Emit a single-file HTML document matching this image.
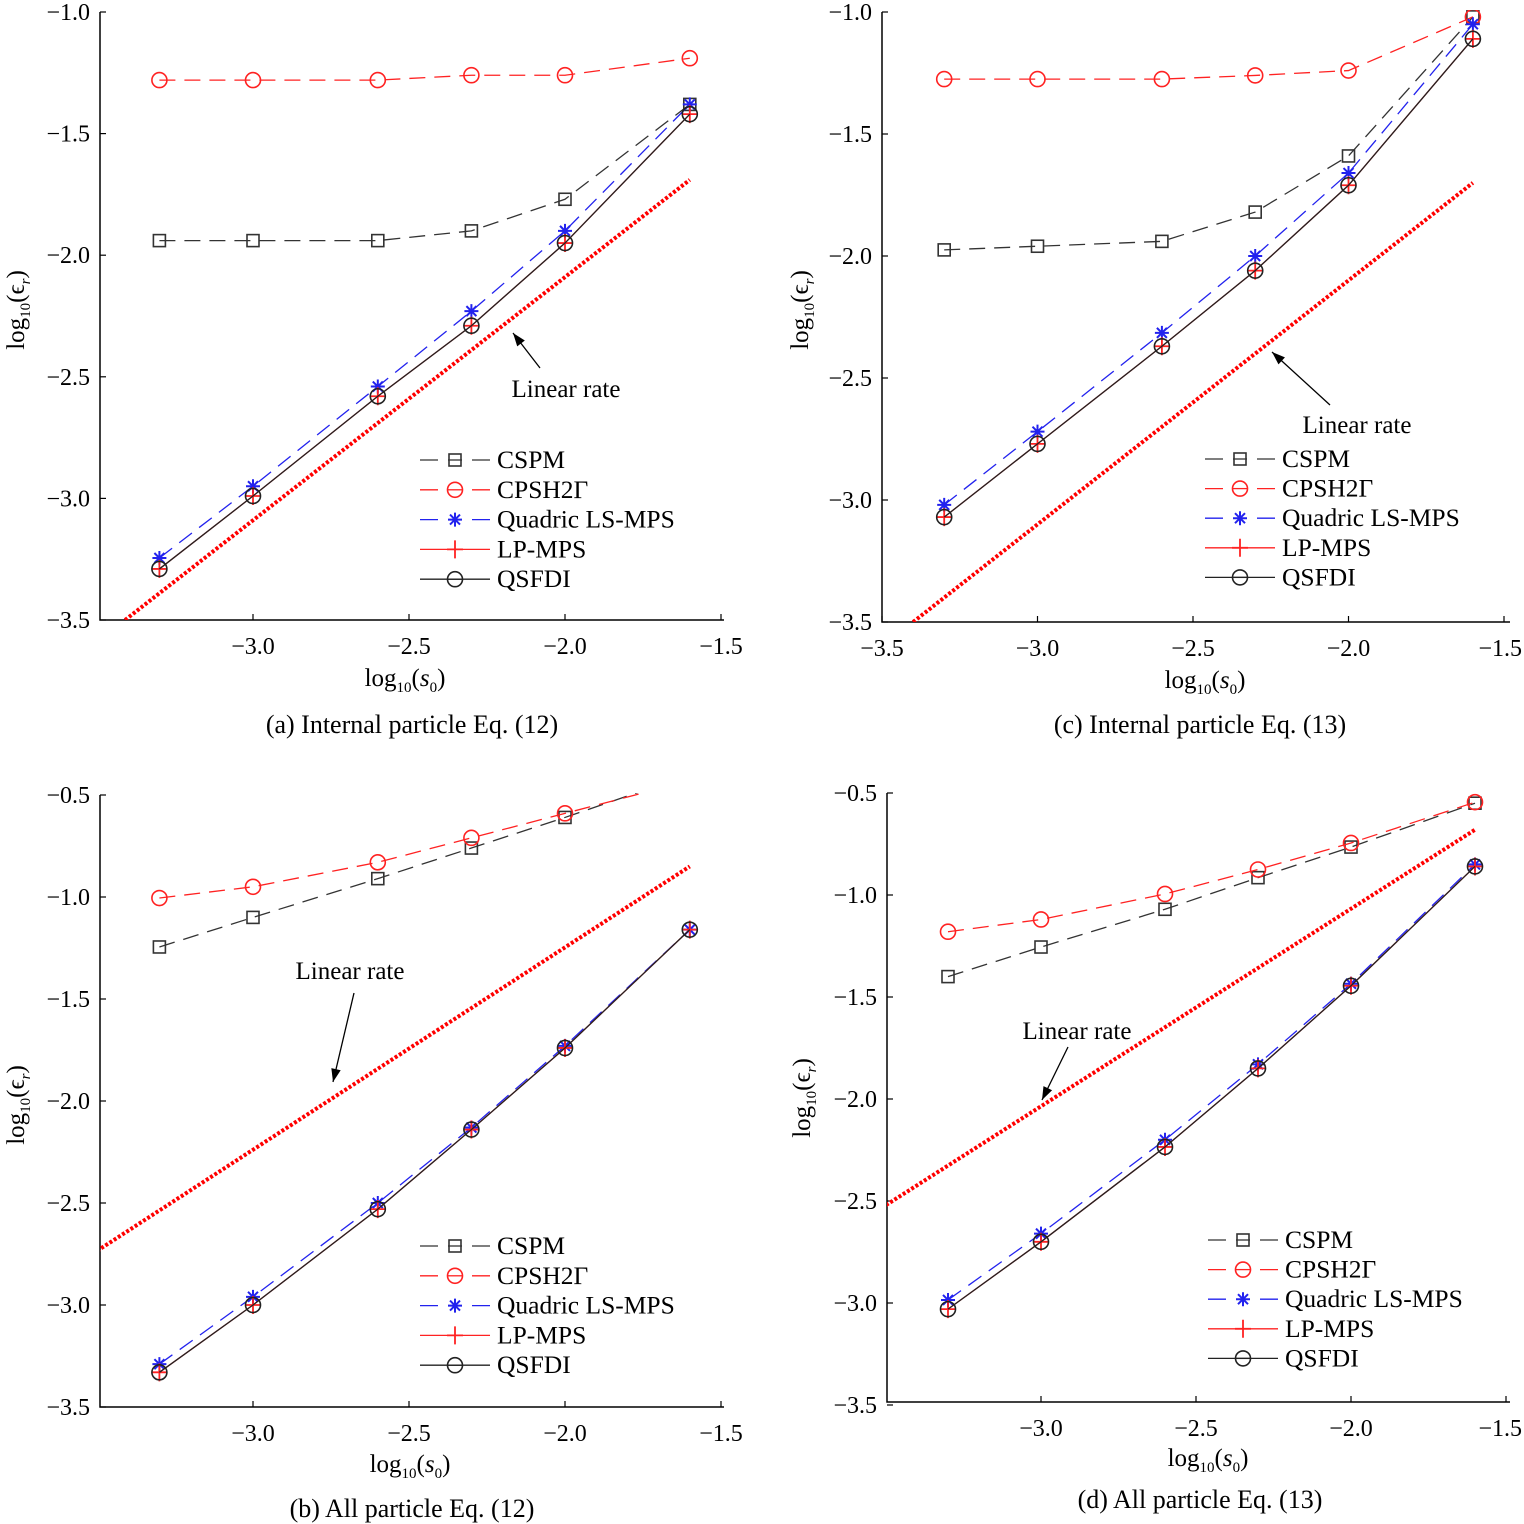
<!DOCTYPE html>
<html><head><meta charset="utf-8">
<style>
html,body{margin:0;padding:0;background:#fff;}
svg{display:block;font-family:"Liberation Serif",serif;}
</style></head>
<body>
<svg id="fig" width="1524" height="1524" viewBox="0 0 1524 1524" xmlns="http://www.w3.org/2000/svg"></svg>
<script>
// ---- data ----
const xs = [-3.3, -3.0, -2.6, -2.3, -2.0, -1.6];
const seriesNames = ["CSPM", "CPSH2Γ", "Quadric LS-MPS", "LP-MPS", "QSFDI"];
// panel (a) Internal particle Eq. (12)
const aCSPM = [-1.94, -1.94, -1.94, -1.90, -1.77, -1.38];
const aCPSH = [-1.28, -1.28, -1.28, -1.26, -1.26, -1.19];
const aQuad = [-3.245, -2.95, -2.54, -2.23, -1.90, -1.38];
const aLP   = [-3.29, -2.99, -2.58, -2.29, -1.95, -1.42];
const aQSF  = [-3.29, -2.99, -2.58, -2.29, -1.95, -1.42];
const aLin  = [[-3.41, -3.5], [-1.6, -1.69]];
// panel (c) Internal particle Eq. (13)
const cCSPM = [-1.975, -1.96, -1.94, -1.82, -1.59, -1.02];
const cCPSH = [-1.275, -1.275, -1.275, -1.26, -1.24, -1.02];
const cQuad = [-3.02, -2.72, -2.315, -2.0, -1.66, -1.05];
const cLP   = [-3.07, -2.77, -2.37, -2.06, -1.71, -1.11];
const cQSF  = [-3.07, -2.77, -2.37, -2.06, -1.71, -1.11];
const cLin  = [[-3.40, -3.5], [-1.6, -1.70]];
// panel (b) All particle Eq. (12)
const bCSPM = [-1.245, -1.10, -0.91, -0.76, -0.61, -0.40];
const bCPSH = [-1.005, -0.95, -0.83, -0.71, -0.59, -0.43];
const bQuad = [-3.29, -2.96, -2.50, -2.13, -1.73, -1.16];
const bLP   = [-3.33, -3.0, -2.53, -2.14, -1.74, -1.16];
const bQSF  = [-3.33, -3.0, -2.53, -2.14, -1.74, -1.16];
const bLin  = [[-3.5, -2.735], [-1.6, -0.85]];
// panel (d) All particle Eq. (13)
const dCSPM = [-1.40, -1.255, -1.07, -0.915, -0.765, -0.55];
const dCPSH = [-1.18, -1.12, -0.995, -0.875, -0.745, -0.545];
const dQuad = [-2.985, -2.66, -2.20, -1.83, -1.435, -0.85];
const dLP   = [-3.03, -2.70, -2.235, -1.85, -1.445, -0.86];
const dQSF  = [-3.03, -2.70, -2.235, -1.85, -1.445, -0.86];
const dLin  = [[-3.5, -2.52], [-1.6, -0.68]];
const xTicksAB = [-3.0, -2.5, -2.0, -1.5];
const xTicksCD = [-3.5, -3.0, -2.5, -2.0, -1.5];
const yTicksTop = [-1.0, -1.5, -2.0, -2.5, -3.0, -3.5];
const yTicksBot = [-0.5, -1.0, -1.5, -2.0, -2.5, -3.0, -3.5];

const NS = "http://www.w3.org/2000/svg";
const fig = document.getElementById('fig');
function mk(tag, attrs, parent){ const e=document.createElementNS(NS,tag); for(const k in attrs) e.setAttribute(k,attrs[k]); (parent||fig).appendChild(e); return e; }
function fmt(v){ return (v<0?"\u2212":"")+Math.abs(v).toFixed(1); }

const styles = [
  {color:"#333", dash:"16 9", marker:"square"},
  {color:"#f22", dash:"16 9", marker:"circle"},
  {color:"#22e", dash:"16 9", marker:"star"},
  {color:"#f22", dash:"", marker:"plus"},
  {color:"#222", dash:"", marker:"circle"}
];

function marker(g, type, cx, cy, color){
  let m;
  if(type==="square"){ m=mk('rect',{x:cx-6,y:cy-6,width:12,height:12,fill:"none",stroke:color,"stroke-width":1.6},g); }
  else if(type==="circle"){ m=mk('circle',{cx:cx,cy:cy,r:7.5,fill:"none",stroke:color,"stroke-width":1.6},g); }
  else if(type==="star"){ m=mk('path',{d:`M${cx-7} ${cy}H${cx+7}M${cx} ${cy-7}V${cy+7}M${cx-5} ${cy-5}L${cx+5} ${cy+5}M${cx-5} ${cy+5}L${cx+5} ${cy-5}`,stroke:color,"stroke-width":2,fill:"none"},g); }
  else { m=mk('path',{d:`M${cx-8} ${cy}H${cx+8}M${cx} ${cy-9}V${cy+9}`,stroke:color,"stroke-width":1.8,fill:"none"},g); }
  
  
}

function panel(p){
  const g = mk('g',{});
  
  
  const X = v => p.x0 + (v + 3.5) * p.xs;
  const Y = v => p.y0 + (p.ymax - v) * p.ys;
  const clipId = p.id+'-clip';
  const cp = mk('clipPath',{id:clipId},g);
  mk('rect',{x:p.left,y:Y(p.ymax)-2,width:p.right-p.left,height:p.bottom-Y(p.ymax)+2},cp);
  const ax = mk('path',{d:`M${p.left} ${Y(p.ymax)}V${p.bottom}H${p.right}`,stroke:"#000","stroke-width":1.5,fill:"none"},g);
  
  
  p.yt.forEach(v=>{
    mk('line',{x1:p.left,x2:p.left+6,y1:Y(v),y2:Y(v),stroke:"#000","stroke-width":1.2},g);
    const t=mk('text',{x:p.left-10,y:Y(v)+8,"text-anchor":"end","font-size":24},g);
    t.textContent=fmt(v);
    
    
  });
  p.xt.forEach(v=>{
    mk('line',{x1:X(v),x2:X(v),y1:p.bottom,y2:p.bottom-6,stroke:"#000","stroke-width":1.2},g);
    const edge = X(v) > 1490;
    const t=mk('text',{x:edge?1522:X(v),y:p.bottom+34,"text-anchor":edge?"end":"middle","font-size":24},g);
    t.textContent=fmt(v);
    
    
  });
  const lr = mk('line',{x1:X(p.lin[0][0]),y1:Y(p.lin[0][1]),x2:X(p.lin[1][0]),y2:Y(p.lin[1][1]),stroke:"#f00","stroke-width":4,"stroke-dasharray":"3 2","clip-path":`url(#${clipId})`},g);
  
  
  p.series.forEach((arr,i)=>{
    const s=styles[i];
    const sg=mk('g',{"clip-path":`url(#${clipId})`},g);
    
    
    const d=arr.map((v,j)=>(j?'L':'M')+X(xs[j])+' '+Y(v)).join('');
    mk('path',{d:d,fill:"none",stroke:s.color,"stroke-width":1.3,"stroke-dasharray":s.dash},sg);
    arr.forEach((v,j)=>{ if(v<=p.ymax+0.01) marker(sg,s.marker,X(xs[j]),Y(v),s.color); });
  });
  const ar=mk('g',{},g);
  
  
  const [a1,a2,b1,b2]=p.arrow;
  mk('line',{x1:a1,y1:a2,x2:b1,y2:b2,stroke:"#000","stroke-width":1.3},ar);
  const ang=Math.atan2(b2-a2,b1-a1), L=14, w=0.35;
  mk('path',{d:`M${b1} ${b2}L${b1-L*Math.cos(ang-w)} ${b2-L*Math.sin(ang-w)}L${b1-L*Math.cos(ang+w)} ${b2-L*Math.sin(ang+w)}Z`,fill:"#000"},ar);
  const lt=mk('text',{x:p.lrText[0],y:p.lrText[1],"text-anchor":"middle","font-size":25},ar);
  lt.textContent="Linear rate";
  const lg=mk('g',{},g);
  
  
  seriesNames.forEach((n,i)=>{
    const s=styles[i], y=p.leg[1]+i*p.leg[2], x=p.leg[0];
    const e=mk('g',{},lg);
    
    
    if(s.dash){
      mk('line',{x1:x,x2:x+18,y1:y,y2:y,stroke:s.color,"stroke-width":1.3},e);
      mk('line',{x1:x+52,x2:x+70,y1:y,y2:y,stroke:s.color,"stroke-width":1.3},e);
    } else mk('line',{x1:x,x2:x+70,y1:y,y2:y,stroke:s.color,"stroke-width":1.3},e);
    marker(e,s.marker,x+35,y,s.color);
    if(s.marker==="square"||s.marker==="circle") mk('line',{x1:x+28,x2:x+42,y1:y,y2:y,stroke:s.color,"stroke-width":1.3},e);
    const t=mk('text',{x:x+77,y:y+8,"font-size":25.5},e); t.textContent=n;
  });
  const xl=mk('text',{x:p.xlab[0],y:p.xlab[1],"text-anchor":"middle","font-size":25},g);
  xl.innerHTML='log<tspan font-size="15" dy="6">10</tspan><tspan dy="-6">(</tspan><tspan font-style="italic">s</tspan><tspan font-size="15" dy="6">0</tspan><tspan dy="-6">)</tspan>';
  
  
  const yl=mk('text',{x:0,y:0,"text-anchor":"middle","font-size":25,transform:`translate(${p.ylab[0]},${p.ylab[1]}) rotate(-90)`},g);
  yl.innerHTML='log<tspan font-size="15" dy="6">10</tspan><tspan dy="-6">(\u03F5</tspan><tspan font-size="15" font-style="italic" dy="6">r</tspan><tspan dy="-6">)</tspan>';
  
  
  const cap=mk('text',{x:p.cap[0],y:p.cap[1],"text-anchor":"middle","font-size":26},g);
  cap.textContent=p.capText;
  
  
}

panel({id:'panel-a',x0:97,xs:312,y0:12,ymax:-1.0,ys:243.2,left:100,right:724,bottom:620,
  xt:xTicksAB,yt:yTicksTop,lin:aLin,series:[aCSPM,aCPSH,aQuad,aLP,aQSF],
  arrow:[540,368,513,333],lrText:[566,397],leg:[420,460,29.8],xlab:[405,686],ylab:[24,310],
  cap:[412,733],capText:"(a) Internal particle Eq. (12)"});
panel({id:'panel-c',x0:882,xs:311,y0:12,ymax:-1.0,ys:244,left:882,right:1510,bottom:622,
  xt:xTicksCD,yt:yTicksTop,lin:cLin,series:[cCSPM,cCPSH,cQuad,cLP,cQSF],
  arrow:[1330,405,1272,352],lrText:[1357,433],leg:[1205,459,29.6],xlab:[1205,688],ylab:[808,310],
  cap:[1200,733],capText:"(c) Internal particle Eq. (13)"});
panel({id:'panel-b',x0:97,xs:312,y0:795,ymax:-0.5,ys:204,left:100,right:724,bottom:1407,
  xt:xTicksAB,yt:yTicksBot,lin:bLin,series:[bCSPM,bCPSH,bQuad,bLP,bQSF],
  arrow:[354,993,333,1082],lrText:[350,979],leg:[420,1246,29.8],xlab:[410,1472],ylab:[24,1105],
  cap:[412,1517],capText:"(b) All particle Eq. (12)"});
panel({id:'panel-d',x0:886,xs:310,y0:793,ymax:-0.5,ys:204,left:887,right:1510,bottom:1402,
  xt:xTicksCD.slice(1),yt:yTicksBot,lin:dLin,series:[dCSPM,dCPSH,dQuad,dLP,dQSF],
  arrow:[1068,1047,1042,1100],lrText:[1077,1039],leg:[1208,1240,29.6],xlab:[1208,1466],ylab:[810,1098],
  cap:[1200,1508],capText:"(d) All particle Eq. (13)"});
</script>
</body></html>
